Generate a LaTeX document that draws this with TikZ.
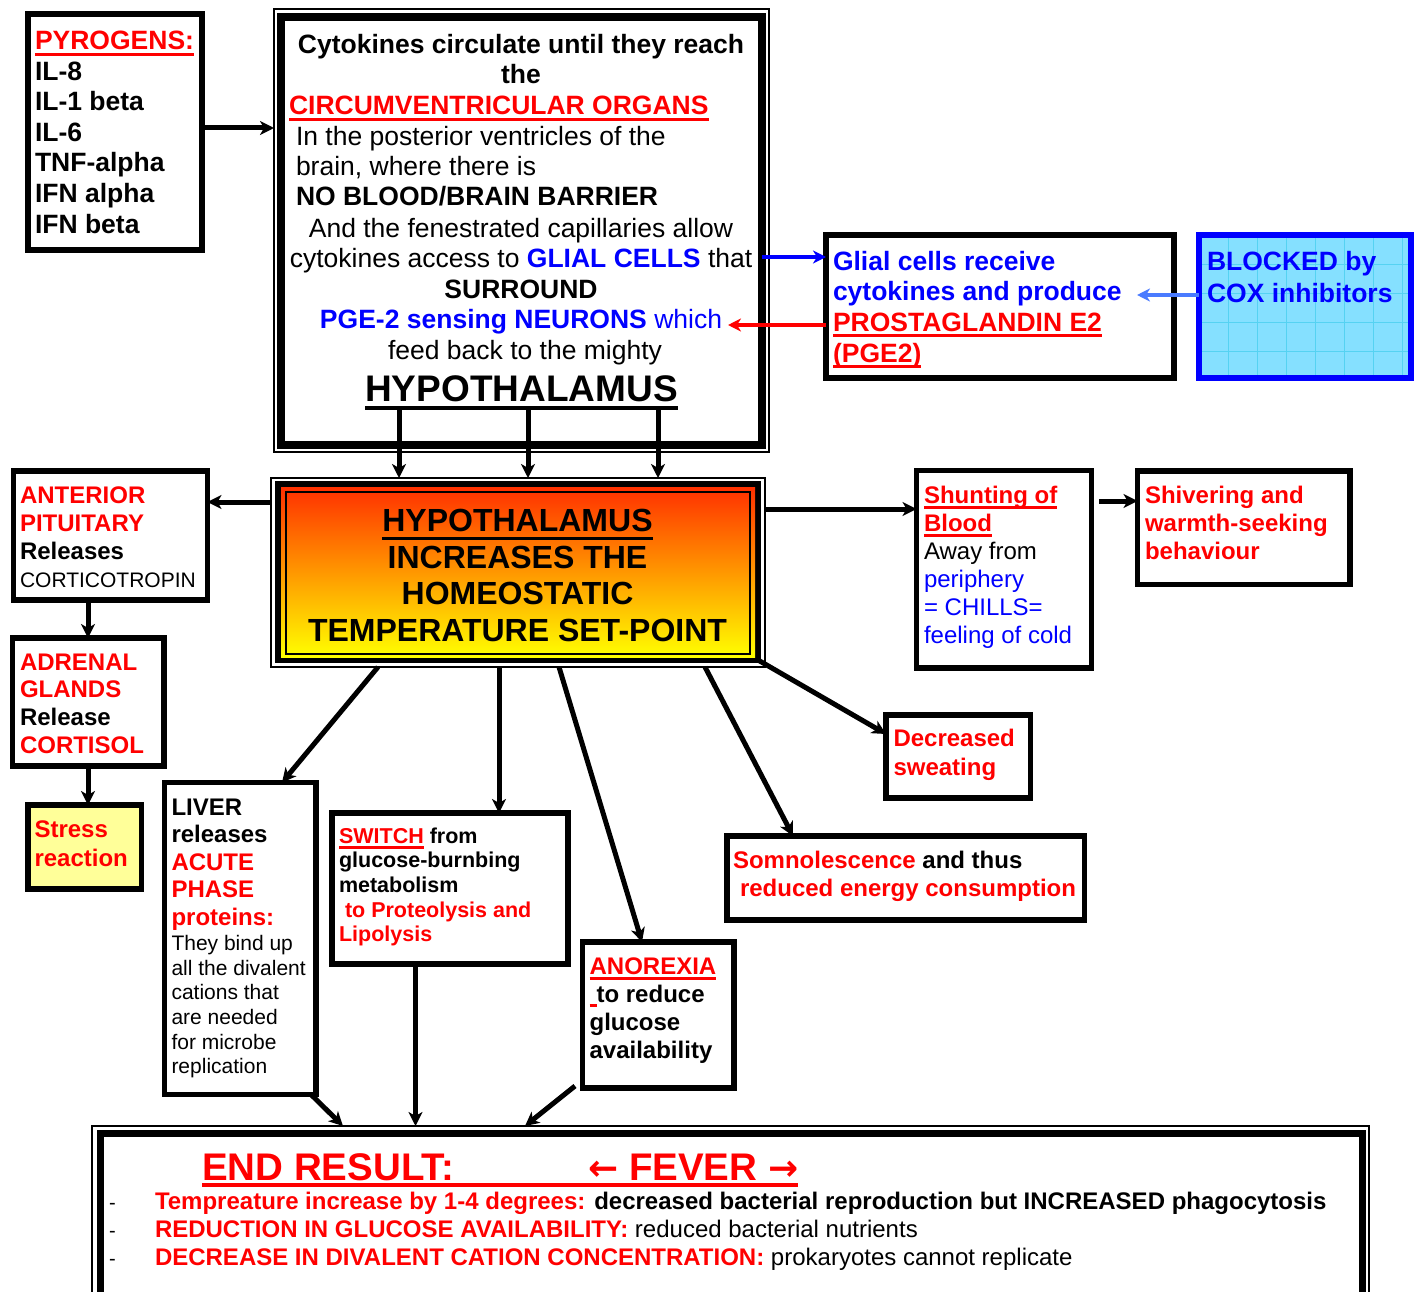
\documentclass[tikz,border=0pt]{standalone}
\usepackage{fontspec}
\setmainfont{Liberation Sans}
\newfontfamily\arrowfont{DejaVu Sans}
\usetikzlibrary{arrows.meta,fit}
\definecolor{myred}{HTML}{FF0000}
\definecolor{myblue}{HTML}{0000FF}
\definecolor{cfblue}{HTML}{4A7BFF}
\definecolor{cyanfill}{HTML}{85E0FF}
\definecolor{gridcol}{HTML}{55D2F2}
\definecolor{stressy}{HTML}{FFFF99}
\definecolor{hottop}{HTML}{FF3000}
\newlength{\uldp}\setlength{\uldp}{6pt}
\newlength{\ulth}\setlength{\ulth}{3pt}
\newsavebox{\ulbox}
\newcommand{\myul}[1]{\sbox{\ulbox}{#1}\rlap{\rule[-\uldp]{\wd\ulbox}{\ulth}}\usebox{\ulbox}}
\newcommand{\fsz}[2]{\fontsize{#1}{#2}\selectfont}
\newcommand{\tred}[1]{\textcolor{myred}{#1}}
\newcommand{\tblue}[1]{\textcolor{myblue}{#1}}
\newcommand{\tredu}[1]{\textcolor{myred}{\myul{#1}}}
\begin{document}
\begin{tikzpicture}[x=1pt,y=-1pt,
  box/.style={draw, line width=5.5pt, inner sep=0pt, outer sep=0pt},
  thinbox/.style={draw, line width=1.5pt, inner sep=0pt, outer sep=0pt},
  txt/.style={inner sep=0pt, outer sep=0pt, align=left, anchor=north west},
  tl/.style={inner sep=0pt, outer sep=0pt, font=\fsz{26.5}{30.6}\bfseries},
  arr/.style={line width=5pt, -{Stealth[length=14pt,width=14pt,inset=4pt]}},
  carr/.style={line width=4pt, -{Stealth[length=13pt,width=13pt,inset=4pt]}},
  gridline/.style={gridcol, line width=0.8pt},
  big/.style={font=\fsz{26.5}{30.6}\bfseries},
  mid/.style={font=\fsz{24}{28}\bfseries}
]
\path[use as bounding box, fill=white] (0,0) rectangle (1421,1292);

% ---------- PYROGENS ----------
\node[box, line width=6pt, fit={(28,14) (202,250)}] (pyro) {};
\node[txt, big] (pyrotxt) at (35,31) {\tredu{PYROGENS:}\\ IL-8\\ IL-1 beta\\ IL-6\\ TNF-alpha\\ IFN alpha\\ IFN beta};

% ---------- TOP BOX ----------
\node[thinbox, fit={(274,9) (769,452)}] (topout) {};
\node[box, line width=8.5pt, fit={(281,17) (762,445)}] (top) {};
\node[tl, anchor=base] (t1) at (521,54) {Cytokines circulate until they reach};
\node[tl, anchor=base] (t2) at (521,84) {the};
\node[tl, anchor=base west] (t3) at (289,115) {\tredu{CIRCUMVENTRICULAR ORGANS}};
\node[tl, anchor=base west] (t4) at (296,145.5) {\mdseries In the posterior ventricles of the};
\node[tl, anchor=base west] (t5) at (296,175.5) {\mdseries brain, where there is};
\node[tl, anchor=base west] (t6) at (296,206) {NO BLOOD/BRAIN BARRIER};
\node[tl, anchor=base] (t7) at (521,237) {\mdseries And the fenestrated capillaries allow};
\node[tl, anchor=base] (t8) at (521,267) {\mdseries cytokines access to \tblue{\bfseries GLIAL CELLS} that};
\node[tl, anchor=base] (t9) at (521,298) {SURROUND};
\node[tl, anchor=base] (t10) at (521,328) {\tblue{PGE-2 sensing NEURONS \mdseries which}};
\node[tl, anchor=base] (t11) at (525,359) {\mdseries feed back to the mighty};
\node[tl, anchor=base, font=\fsz{37}{42}\bfseries] (t12) at (521.5,401) {\setlength{\uldp}{9pt}\setlength{\ulth}{4pt}\myul{HYPOTHALAMUS}};

% ---------- GLIAL / BLOCKED ----------
\node[box, fit={(826,235) (1174,378)}] (gl) {};
\node[txt, big] (gltxt) at (833,251) {\tblue{Glial cells receive}\\ \tblue{cytokines and produce}\\ \tredu{PROSTAGLANDIN E2}\\ \tredu{(PGE2)}};
\node[fill=cyanfill, inner sep=0pt, outer sep=0pt, fit={(1198.5,235) (1411,378)}] (blk) {};
\foreach \gx in {1228,1257,...,1402} \draw[gridline] (\gx,238) -- (\gx,375);
\foreach \gy in {264,293,...,351} \draw[gridline] (1201,\gy) -- (1408,\gy);
\draw[myblue, line width=6pt] (blk.north west) rectangle (blk.south east);
\node[txt, font=\fsz{26.5}{32}\bfseries, text=myblue] (blktxt) at (1207,251) {BLOCKED by\\ COX inhibitors};

% ---------- CENTRAL HYPOTHALAMUS ----------
\node[thinbox, fit={(271,478) (765,667)}] (hypout) {};
\node[box, line width=6pt, fit={(278,484) (758,660)}] (hyp) {};
\node[inner sep=0pt, outer sep=0pt, top color=hottop, bottom color=yellow, fit={(281,487) (755,657)}] (hypfill) {};
\node[thinbox, line width=1.3pt, fit={(286,492) (750,654)}] (hypin) {};
\node[inner sep=0pt, align=center, anchor=north, font=\fsz{32}{36.7}\bfseries] (hyptxt) at (517.5,509)
  {\setlength{\uldp}{8pt}\myul{HYPOTHALAMUS}\\ INCREASES THE\\ HOMEOSTATIC\\ TEMPERATURE SET-POINT};

% ---------- LEFT COLUMN ----------
\node[box, fit={(13.5,471) (207.5,600)}] (ant) {};
\node[txt, mid] (anttxt) at (20,486.5) {\tred{ANTERIOR}\\ \tred{PITUITARY}\\ Releases\\ \mdseries\fontsize{21}{28}\selectfont CORTICOTROPIN};
\node[box, fit={(12.5,638) (164,766)}] (adr) {};
\node[txt, font=\fsz{24}{27.7}\bfseries] (adrtxt) at (20,653.5) {\tred{ADRENAL}\\ \tred{GLANDS}\\ Release\\ \tred{CORTISOL}};
\node[box, fill=stressy, fit={(28,805) (141.5,889)}] (str) {};
\node[txt, font=\fsz{24}{29}\bfseries, text=myred] (strtxt) at (34.5,820.5) {Stress\\ reaction};

% ---------- LIVER ----------
\node[box, fit={(164.5,782.5) (316,1094.5)}] (liv) {};
\node[txt, font=\fsz{24}{27.5}\bfseries] (livtxt) at (171.5,798.5) {LIVER\\ releases\\ \tred{ACUTE}\\ \tred{PHASE}\\ \tred{proteins:}};
\node[txt, font=\fsz{21}{24.6}] (livtxt2) at (171.5,935.5) {They bind up\\ all the divalent\\ cations that\\ are needed\\ for microbe\\ replication};

% ---------- SWITCH ----------
\node[box, fit={(332,813) (568,964)}] (sw) {};
\node[txt, font=\fsz{21.5}{24.7}\bfseries] (swtxt) at (339,827.5) {\tredu{SWITCH} from\\ glucose-burnbing\\ metabolism\\ \hspace*{6pt}\tred{to Proteolysis and}\\ \tred{Lipolysis}};

% ---------- ANOREXIA ----------
\node[box, fit={(582.6,942) (734,1088)}] (anx) {};
\node[txt, mid] (anxtxt) at (589.6,957.5) {\tredu{ANOREXIA}\\ {\color{myred}\rule[-5pt]{7pt}{3pt}}to reduce\\ glucose\\ availability};

% ---------- SOMNOLESCENCE ----------
\node[box, fit={(727,836) (1084.5,920)}] (som) {};
\node[txt, mid] (somtxt) at (733,851) {\tred{Somnolescence} and thus\\ \hspace*{7pt}\tred{reduced energy consumption}};

% ---------- DECREASED SWEATING ----------
\node[box, fit={(886,715) (1030.5,798)}] (dec) {};
\node[txt, font=\fsz{24}{29}\bfseries, text=myred] (dectxt) at (893.5,729) {Decreased\\ sweating};

% ---------- SHUNTING / SHIVERING ----------
\node[box, fit={(916.5,470.5) (1091.5,668)}] (shu) {};
\node[txt, mid] (shutxt) at (924,486) {\tredu{Shunting of}\\ \tredu{Blood}\\ \mdseries Away from\\ \mdseries\tblue{periphery}\\ \mdseries\tblue{= CHILLS=}\\ \mdseries\tblue{feeling of cold}};
\node[box, fit={(1137.5,471) (1350,584.5)}] (shi) {};
\node[txt, mid, text=myred] (shitxt) at (1145,486) {Shivering and\\ warmth-seeking\\ behaviour};

% ---------- END RESULT ----------
\node[thinbox, fit={(92,1126) (1369,1330)}] (endout) {};
\node[box, line width=7pt, fit={(100,1133.5) (1362,1320)}] (endres) {};
\node[inner sep=0pt, anchor=base west, font=\fsz{38.5}{42}\bfseries, text=myred] (endA) at (202,1180) {END RESULT:};
\node[inner sep=0pt, anchor=base west, font=\fsz{38.5}{42}\bfseries, text=myred] (endB) at (588,1180) {{\arrowfont\fontsize{36}{40}\selectfont ←} FEVER {\arrowfont\fontsize{36}{40}\selectfont →}};
\draw[myred, line width=4pt] ([yshift=-5pt]endA.base west) -- ([yshift=-5pt]endB.base east);
\node[txt, font=\fsz{20}{28}] (dashes) at (109,1195.5) {\vphantom{T}-\\ -\\ -};
\node[txt, font=\fsz{24}{28}\bfseries] (endlines) at (155,1192.5)
  {\tred{Tempreature increase by 1-4 degrees:} decreased bacterial reproduction but INCREASED phagocytosis\\
   \tred{REDUCTION IN GLUCOSE AVAILABILITY:} \mdseries reduced bacterial nutrients\\
   \tred{DECREASE IN DIVALENT CATION CONCENTRATION:} \mdseries prokaryotes cannot replicate};

% ---------- CONNECTORS ----------
\draw[arr] (pyro.east |- 0,128) -- (topout.west |- 0,128);
\coordinate (d1) at (399,410);
\coordinate (d2) at (528,410);
\coordinate (d3) at (658,410);
\draw[arr] (d1) -- (d1 |- hypout.north);
\draw[arr] (d2) -- (d2 |- hypout.north);
\draw[arr] (d3) -- (d3 |- hypout.north);
\draw[carr, myblue] (top.east |- 0,257) -- (gl.west |- 0,257);
\coordinate (redtip) at (728,325);
\draw[carr, myred] (gl.west |- redtip) -- (redtip);
\coordinate (cftip) at (1137,295);
\draw[carr, cfblue, line width=4.5pt] (blk.west |- cftip) -- (cftip);
\draw[arr] (hypout.west |- 0,502) -- (ant.east |- 0,502);
\draw[arr] (ant.south -| 88,0) -- (adr.north -| 88,0);
\draw[arr] (adr.south -| 88,0) -- (str.north -| 88,0);
\draw[arr] (hypout.east |- 0,509) -- (shu.west |- 0,509);
\coordinate (shs) at (1099,501);
\draw[arr] (shs) -- (shs -| shi.west);
\draw[arr] (hypout.south -| 378,0) -- (liv.north -| 282,0);
\draw[arr] (hypout.south -| 499,0) -- (sw.north -| 499,0);
\draw[arr] (hypout.south -| 559,0) -- (anx.north -| 642,0);
\draw[arr] (hypout.south -| 705,0) -- (som.north -| 793,0);
\draw[arr] (hyp.south east) -- (dec.west |- 0,734);
\draw[arr] (liv.south -| 311,0) -- (endout.north -| 343,0);
\draw[arr] (sw.south -| 415.5,0) -- (endout.north -| 415.5,0);
\coordinate (anxs) at (575,1086);
\draw[arr] (anxs) -- (endout.north -| 525,0);
\end{tikzpicture}
\end{document}
